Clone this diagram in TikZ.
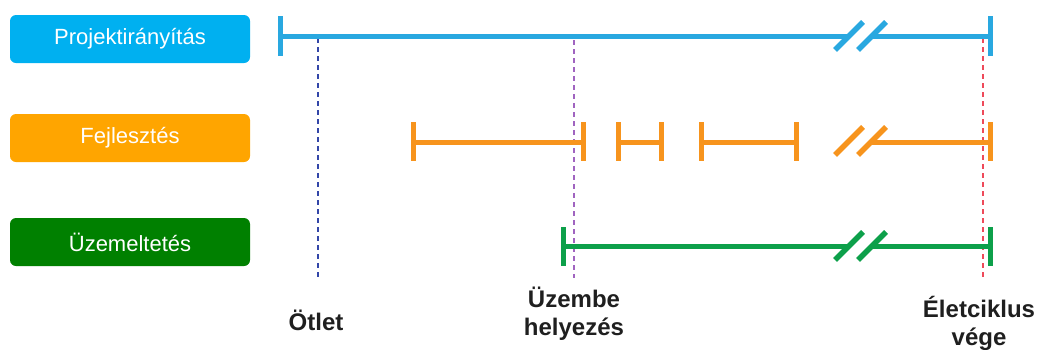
\documentclass[tikz,border=0pt]{standalone}
\usepackage{fontspec}
\setmainfont{Liberation Sans}
\definecolor{pmbox}{HTML}{00B0F0}
\definecolor{devbox}{HTML}{FFA500}
\definecolor{opbox}{HTML}{008000}
\definecolor{pmline}{HTML}{29A8E0}
\definecolor{devline}{HTML}{F7941D}
\definecolor{opline}{HTML}{0DA04A}
\definecolor{dblue}{HTML}{3346A8}
\definecolor{dpurple}{HTML}{A064C0}
\definecolor{dred}{HTML}{EE4A5A}
\begin{document}
\begin{tikzpicture}[x=1pt,y=-1pt,
  phasebox/.style={fill=#1,draw=none,rounded corners=6pt,minimum width=240pt,minimum height=48pt,
    text=white,font=\fontsize{22}{24}\selectfont,inner sep=0pt},
  bar/.style={draw=#1,line width=5pt,line cap=butt},
  slash/.style={draw=#1,line width=5.5pt,line cap=butt},
  vguide/.style={draw=#1,line width=1.3pt,dash pattern=on 5pt off 4pt},
  milestone/.style={font=\bfseries\fontsize{24}{28}\selectfont,align=center,text=black!88,inner sep=0pt}]
\useasboundingbox (0,0) rectangle (1041,349);
% phase boxes
\node[phasebox=pmbox]  (pm)  at (130,39)  {Projektirányítás};
\node[phasebox=devbox] (dev) at (130,138) {Fejlesztés};
\node[phasebox=opbox]  (op)  at (130,242) {Üzemeltetés};
% guides
\coordinate (gA1) at (318,38);  \coordinate (gA2) at (318,278);
\coordinate (gB1) at (574,40);  \coordinate (gB2) at (574,278);
\coordinate (gC1) at (983,38);  \coordinate (gC2) at (983,278);
\draw[vguide=dblue]   (gA1) -- (gA2);
\draw[vguide=dpurple] (gB1) -- (gB2);
\draw[vguide=dred]    (gC1) -- (gC2);
% project management row
\coordinate (p0) at (280,36); \coordinate (p1) at (849,36);
\coordinate (p2) at (872,36); \coordinate (p3) at (990,36);
\draw[bar=pmline] (p0) -- (p1);
\draw[bar=pmline] (p2) -- (p3);
\draw[bar=pmline] (280,16) -- (280,56);
\draw[bar=pmline] (990,16) -- (990,56);
\draw[slash=pmline] (835,50) -- (863,22);
\draw[slash=pmline] (858,50) -- (886,22);
% development row
\foreach \a/\b in {413/583,618/661,701/796}{
  \draw[bar=devline] (\a,142) -- (\b,142);
  \draw[bar=devline] (\a,122) -- (\a,161);
  \draw[bar=devline] (\b,122) -- (\b,161);
}
\coordinate (d2) at (872,142); \coordinate (d3) at (990,142);
\draw[bar=devline] (d2) -- (d3);
\draw[bar=devline] (990,122) -- (990,161);
\draw[slash=devline] (835,155) -- (863,127);
\draw[slash=devline] (858,155) -- (886,127);
% operation row
\coordinate (o0) at (563,246); \coordinate (o1) at (849,246);
\coordinate (o2) at (872,246); \coordinate (o3) at (990,246);
\draw[bar=opline] (o0) -- (o1);
\draw[bar=opline] (o2) -- (o3);
\draw[bar=opline] (563,227) -- (563,266);
\draw[bar=opline] (990,227) -- (990,266);
\draw[slash=opline] (835,260) -- (863,232);
\draw[slash=opline] (858,260) -- (886,232);
% milestones
\node[milestone,anchor=base] (m1) at (316,330) {Ötlet};
\node[milestone,anchor=base] (m2) at (574,335) {Üzembe\\helyezés};
\node[milestone,anchor=base] (m3) at (979,345) {Életciklus\\vége};
\end{tikzpicture}
\end{document}
